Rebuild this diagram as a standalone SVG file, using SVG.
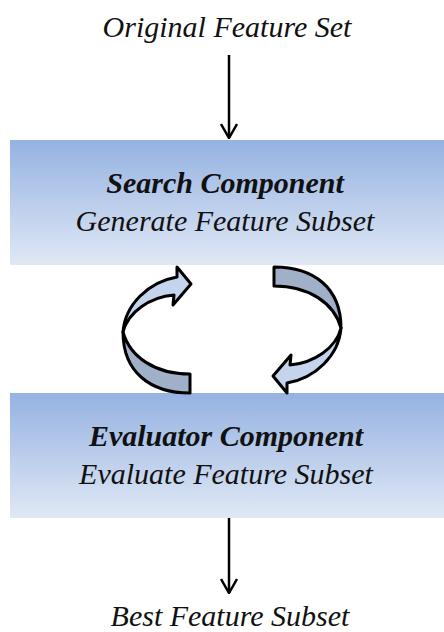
<svg xmlns="http://www.w3.org/2000/svg" width="444" height="632" viewBox="0 0 444 632">
<defs>
<linearGradient id="boxGrad" x1="0" y1="0" x2="0" y2="1">
<stop offset="0" stop-color="#95b2e2"/>
<stop offset="1" stop-color="#e0e8f5"/>
</linearGradient>
<marker id="arrowHead" viewBox="0 0 16 18" refX="15" refY="9" markerWidth="16" markerHeight="18" markerUnits="userSpaceOnUse" orient="auto">
<path d="M1,1 L15,9 L1,17" fill="none" stroke="#000" stroke-width="2.5"/>
</marker>
<g id="cycleArrow">
<path class="tail" d="M123,332 C123,372 150,393 190,393 L190,374 C155,374 130,357 123,332 Z"/>
<path class="head" d="M123,332 C125,305 148,282 177,277 L177,267 L191,284 L173,305 L174,295 C150,297 128,312 123,332 Z"/>
</g>
<style>
.box{fill:url(#boxGrad);}
.lbl{font-family:"Liberation Serif","Times New Roman",serif;font-style:italic;font-size:30px;fill:#111;text-anchor:middle;}
.bold{font-weight:bold;}
.conn{stroke:#000;stroke-width:2.5;fill:none;}
.tail{fill:#a0b0c9;stroke:#000;stroke-width:3;stroke-linejoin:round;}
.head{fill:#c4d4ec;stroke:#000;stroke-width:3;stroke-linejoin:round;}
</style>
</defs>
<rect width="444" height="632" fill="#fff"/>
<g id="input">
<text class="lbl" x="227" y="37">Original Feature Set</text>
</g>
<g id="search">
<rect class="box" x="10" y="140" width="434" height="125"/>
<text class="lbl bold" x="225" y="193">Search Component</text>
<text class="lbl" x="225" y="231">Generate Feature Subset</text>
</g>
<g id="evaluator">
<rect class="box" x="10" y="393" width="434" height="125"/>
<text class="lbl bold" x="226" y="446">Evaluator Component</text>
<text class="lbl" x="226" y="484">Evaluate Feature Subset</text>
</g>
<g id="output">
<text class="lbl" x="230" y="626">Best Feature Subset</text>
</g>
<g id="connectors">
<line class="conn" x1="229" y1="55" x2="229" y2="138" marker-end="url(#arrowHead)"/>
<line class="conn" x1="229" y1="518" x2="229" y2="593" marker-end="url(#arrowHead)"/>
<use href="#cycleArrow"/>
<use href="#cycleArrow" transform="rotate(180 232 330)"/>
</g>
</svg>
